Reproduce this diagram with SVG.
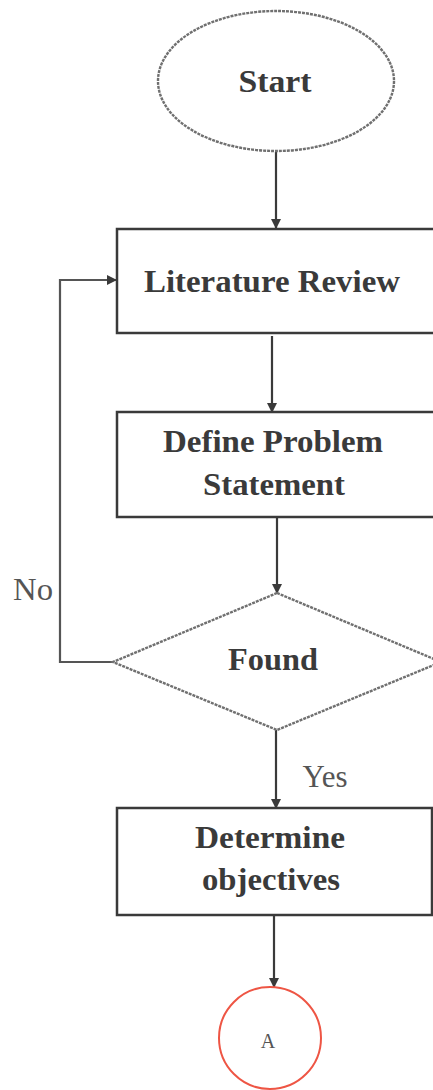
<svg xmlns="http://www.w3.org/2000/svg" width="433" height="1090" viewBox="0 0 433 1090">
<style>
.box{fill:#fff;stroke:#3a3a3a;stroke-width:2.5}
.soft{fill:#fff;stroke:#707070;stroke-width:2.4;stroke-dasharray:3 1}
.t{font-family:"Liberation Serif","Times New Roman",serif;font-weight:bold;font-size:31px;fill:#3a3a3a;text-anchor:middle}
.l{font-family:"Liberation Serif","Times New Roman",serif;font-size:31px;fill:#555;text-anchor:middle}
.c{fill:none;stroke:#3a3a3a;stroke-width:2.2}
</style>
<defs>
<marker id="ah" markerWidth="10" markerHeight="10" refX="9" refY="5" orient="auto" markerUnits="userSpaceOnUse">
<path d="M0,0 L10,5 L0,10 Z" fill="#3a3a3a"/>
</marker>
</defs>
<g id="connectors">
<path class="c" d="M276,152 V228" marker-end="url(#ah)"/>
<path class="c" d="M272,336 V412" marker-end="url(#ah)"/>
<path class="c" d="M277,517 V593" marker-end="url(#ah)"/>
<path class="c" d="M113,662 H60 V280 H116" marker-end="url(#ah)" style="stroke:#555"/>
<path class="c" d="M276,730 V808" marker-end="url(#ah)"/>
<path class="c" d="M274,915 V987" marker-end="url(#ah)"/>
<text class="l" x="33" y="600" textLength="40" lengthAdjust="spacingAndGlyphs">No</text>
<text class="l" x="325" y="787" textLength="45" lengthAdjust="spacingAndGlyphs">Yes</text>
</g>
<g id="start">
<ellipse class="soft" cx="276" cy="81" rx="118" ry="70"/>
<text class="t" x="275" y="92" textLength="73" lengthAdjust="spacingAndGlyphs">Start</text>
</g>
<g id="literature">
<rect class="box" x="117" y="229" width="330" height="104"/>
<text class="t" x="272" y="292" textLength="256" lengthAdjust="spacingAndGlyphs">Literature Review</text>
</g>
<g id="define">
<rect class="box" x="117" y="412" width="330" height="105"/>
<text class="t" x="273" y="452" textLength="220" lengthAdjust="spacingAndGlyphs">Define Problem</text>
<text class="t" x="274" y="495" textLength="142" lengthAdjust="spacingAndGlyphs">Statement</text>
</g>
<g id="found">
<polygon class="soft" points="277,593 441,662 277,730 113,662"/>
<text class="t" x="273" y="670" textLength="90" lengthAdjust="spacingAndGlyphs">Found</text>
</g>
<g id="determine">
<rect class="box" x="117" y="808" width="315" height="107"/>
<text class="t" x="270" y="848" textLength="150" lengthAdjust="spacingAndGlyphs">Determine</text>
<text class="t" x="271" y="890" textLength="138" lengthAdjust="spacingAndGlyphs">objectives</text>
</g>
<g id="connectorA">
<circle cx="270" cy="1038" r="51" fill="#fff" stroke="#ee5544" stroke-width="2"/>
<text x="268" y="1048" font-family="Liberation Serif, serif" font-size="20" fill="#555" text-anchor="middle">A</text>
</g>
</svg>
